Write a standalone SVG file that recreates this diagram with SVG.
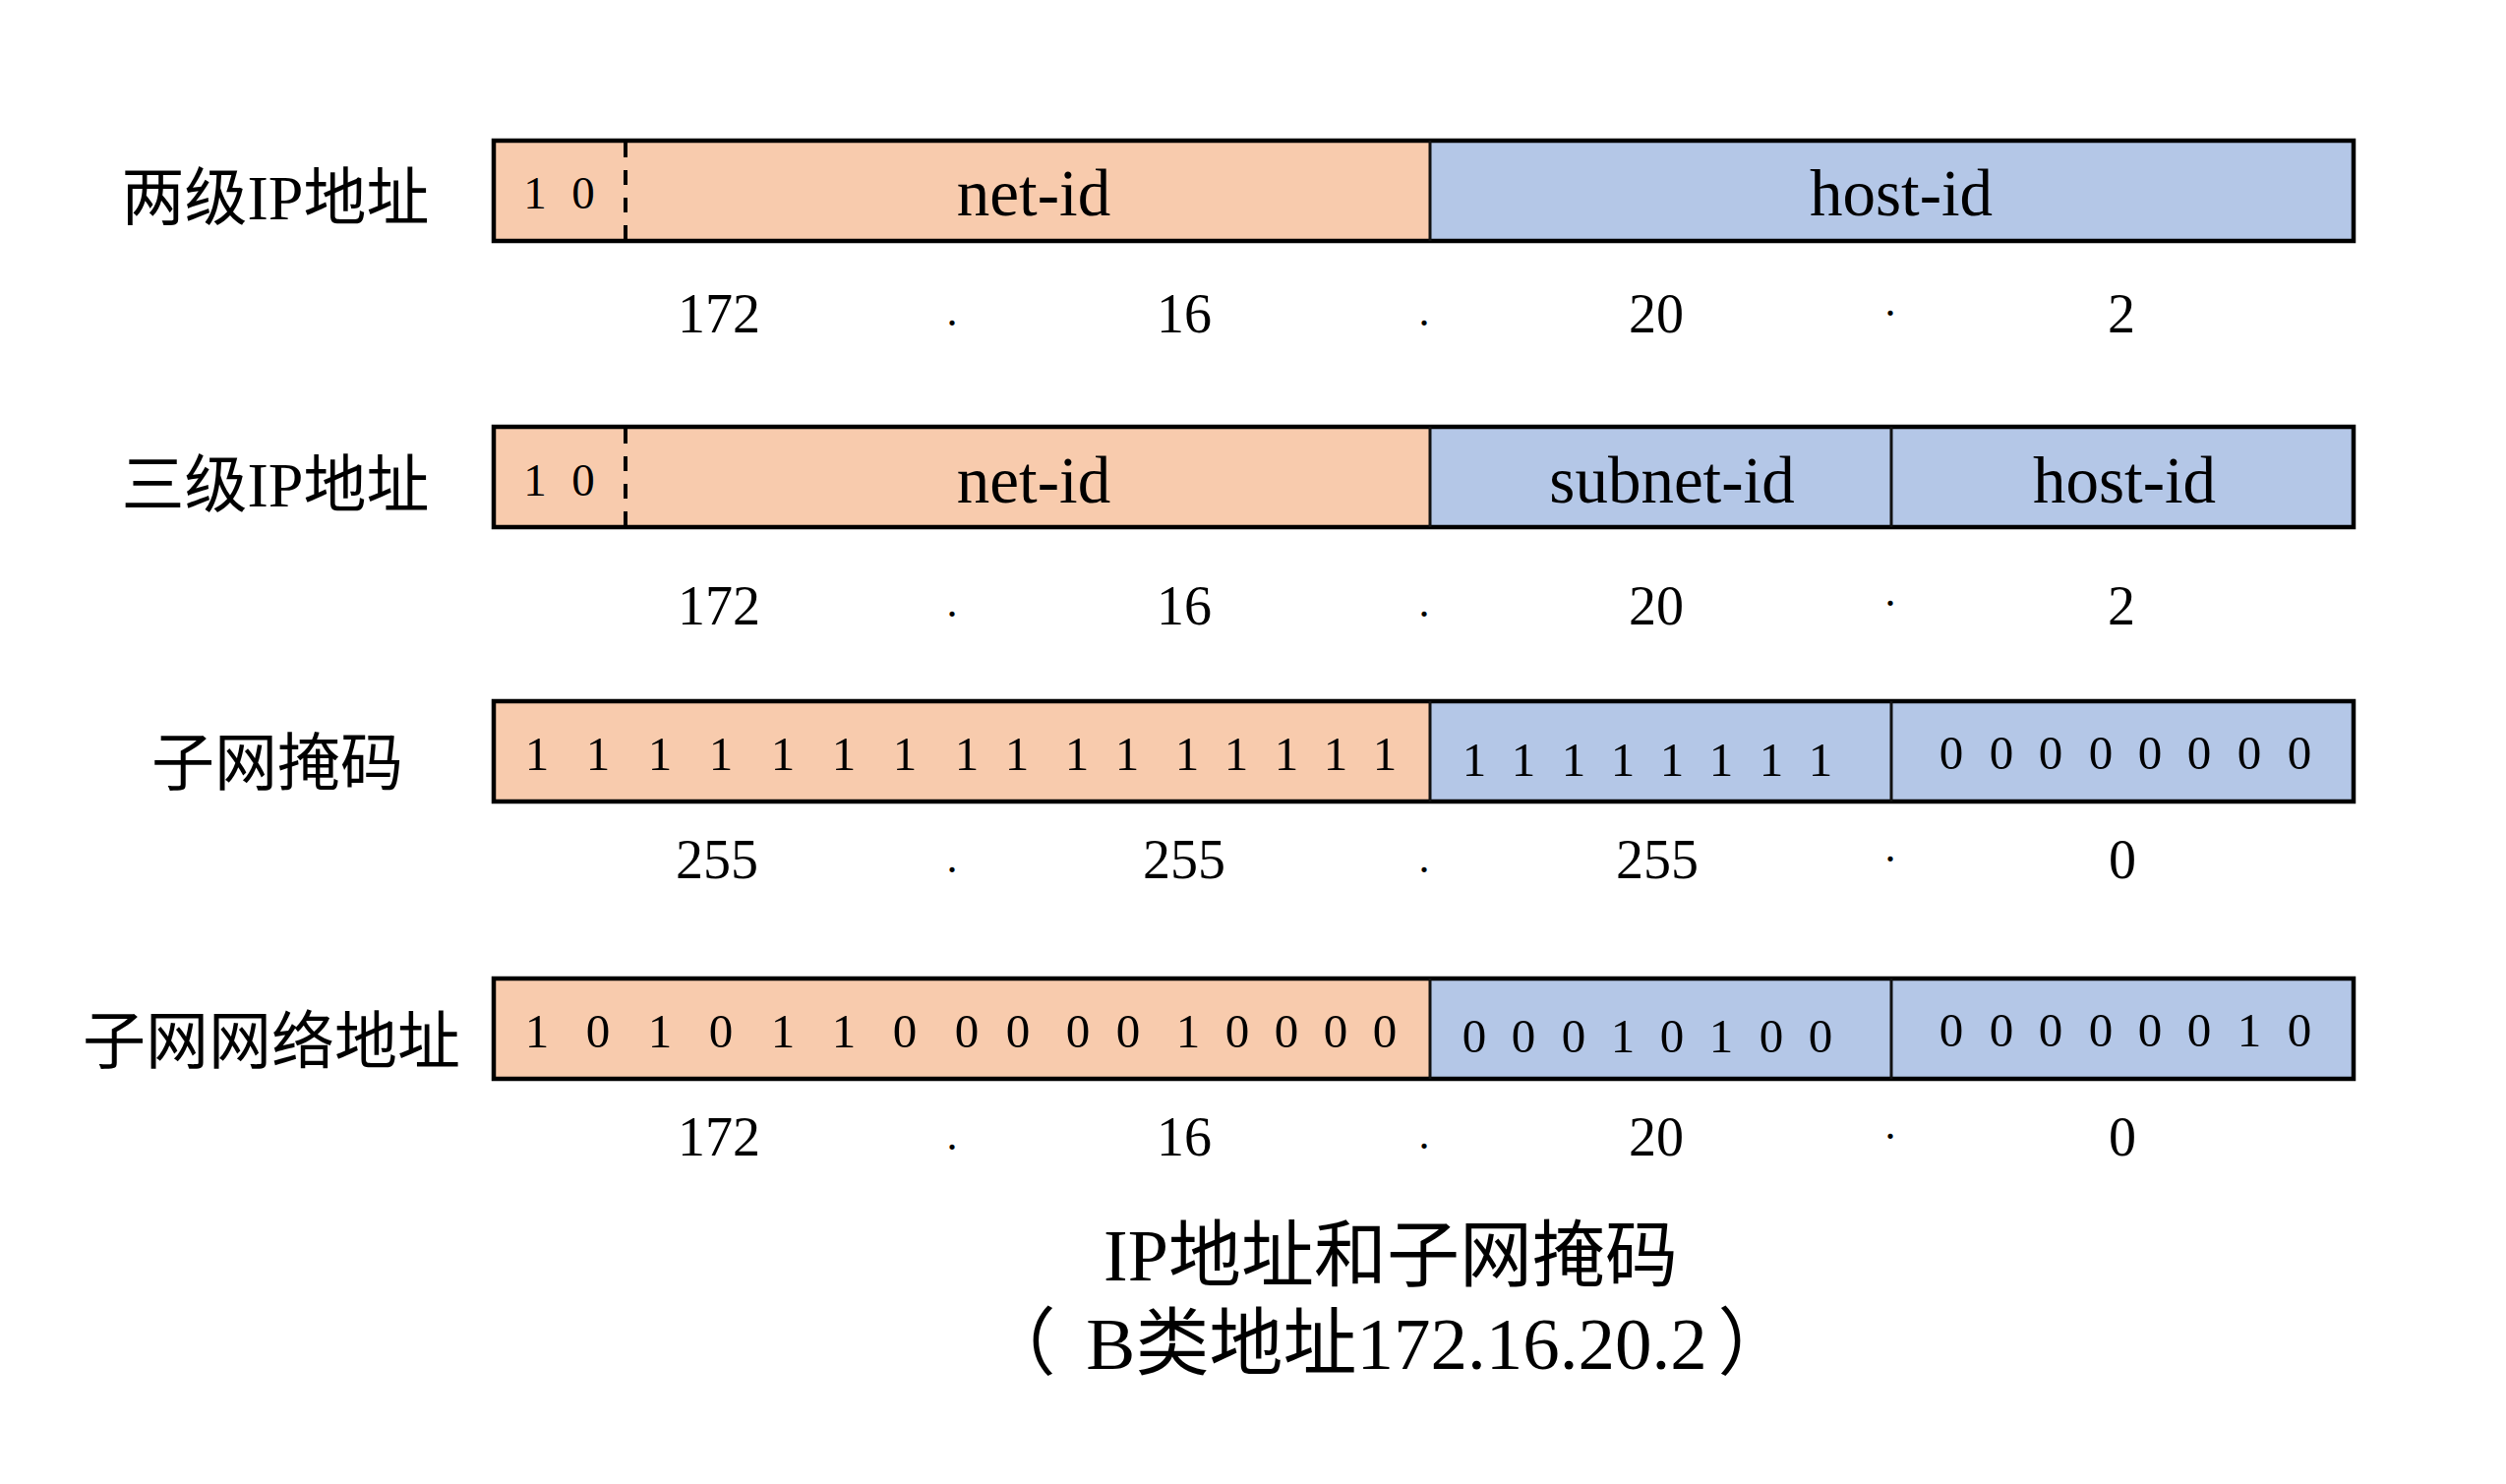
<svg xmlns="http://www.w3.org/2000/svg" width="2548" height="1509" viewBox="0 0 2548 1509">
<style>
text{font-family:'Liberation Serif','Noto Sans CJK SC',serif;fill:#000;text-anchor:middle}
.lbl{font-size:64px}
.num{font-size:56px}
.bit{font-size:49px}
.bs{font-size:47px}
.fld{font-size:67px}
.dot{font-size:44px}
.org{fill:#F8CBAD}
.blu{fill:#B4C7E7}
.frame{fill:none;stroke:#000;stroke-width:4.5}
.dv{stroke:#111;stroke-width:3}
.dash{stroke:#000;stroke-width:4;stroke-dasharray:15 13}
</style>
<rect width="2548" height="1509" fill="#fff"/>

<g id="row1">
<text class="lbl" x="280" y="223">两级IP地址</text>
<rect class="org" x="502" y="143" width="952" height="102"/>
<rect class="blu" x="1454" y="143" width="939" height="102"/>
<rect class="frame" x="502" y="143" width="1891" height="102"/>
<line class="dv" x1="1454" y1="143" x2="1454" y2="245"/>
<line class="dash" x1="636" y1="145" x2="636" y2="244"/>
<text class="bs" x="544" y="212">1</text>
<text class="bs" x="593" y="212">0</text>
<text class="fld" x="1051" y="219">net-id</text>
<text class="fld" x="1933" y="219">host-id</text>
<text class="num" x="731" y="338">172</text>
<text class="dot" x="968" y="331">.</text>
<text class="num" x="1204" y="338">16</text>
<text class="dot" x="1448" y="331">.</text>
<text class="num" x="1684" y="338">20</text>
<text class="dot" x="1922" y="321">.</text>
<text class="num" x="2157" y="338">2</text>
</g>

<g id="row2">
<text class="lbl" x="280" y="515">三级IP地址</text>
<rect class="org" x="502" y="434" width="952" height="102"/>
<rect class="blu" x="1454" y="434" width="939" height="102"/>
<rect class="frame" x="502" y="434" width="1891" height="102"/>
<line class="dv" x1="1454" y1="434" x2="1454" y2="536"/>
<line class="dv" x1="1923" y1="434" x2="1923" y2="536"/>
<line class="dash" x1="636" y1="436" x2="636" y2="535"/>
<text class="bs" x="544" y="504">1</text>
<text class="bs" x="593" y="504">0</text>
<text class="fld" x="1051" y="511">net-id</text>
<text class="fld" x="1700" y="511">subnet-id</text>
<text class="fld" x="2160" y="511">host-id</text>
<text class="num" x="731" y="635">172</text>
<text class="dot" x="968" y="627">.</text>
<text class="num" x="1204" y="635">16</text>
<text class="dot" x="1448" y="627">.</text>
<text class="num" x="1684" y="635">20</text>
<text class="dot" x="1922" y="616">.</text>
<text class="num" x="2157" y="635">2</text>
</g>

<g id="row3">
<text class="lbl" x="282" y="798">子网掩码</text>
<rect class="org" x="502" y="713" width="952" height="102"/>
<rect class="blu" x="1454" y="713" width="939" height="102"/>
<rect class="frame" x="502" y="713" width="1891" height="102"/>
<line class="dv" x1="1454" y1="713" x2="1454" y2="815"/>
<line class="dv" x1="1923" y1="713" x2="1923" y2="815"/>
<text class="bit" x="546" y="783">1</text><text class="bit" x="608" y="783">1</text><text class="bit" x="671" y="783">1</text><text class="bit" x="733" y="783">1</text><text class="bit" x="796" y="783">1</text><text class="bit" x="858" y="783">1</text><text class="bit" x="920" y="783">1</text><text class="bit" x="983" y="783">1</text>
<text class="bit" x="1034" y="783">1</text><text class="bit" x="1095" y="783">1</text><text class="bit" x="1146" y="783">1</text><text class="bit" x="1207" y="783">1</text><text class="bit" x="1257" y="783">1</text><text class="bit" x="1308" y="783">1</text><text class="bit" x="1358" y="783">1</text><text class="bit" x="1408" y="783">1</text>
<text class="bit" x="1499" y="789">1</text><text class="bit" x="1549" y="789">1</text><text class="bit" x="1600" y="789">1</text><text class="bit" x="1650" y="789">1</text><text class="bit" x="1700" y="789">1</text><text class="bit" x="1750" y="789">1</text><text class="bit" x="1801" y="789">1</text><text class="bit" x="1851" y="789">1</text>
<text class="bit" x="1984" y="782">0</text><text class="bit" x="2035" y="782">0</text><text class="bit" x="2085" y="782">0</text><text class="bit" x="2136" y="782">0</text><text class="bit" x="2186" y="782">0</text><text class="bit" x="2236" y="782">0</text><text class="bit" x="2287" y="782">0</text><text class="bit" x="2338" y="782">0</text>
<text class="num" x="729" y="893">255</text>
<text class="dot" x="968" y="887">.</text>
<text class="num" x="1204" y="893">255</text>
<text class="dot" x="1448" y="887">.</text>
<text class="num" x="1685" y="893">255</text>
<text class="dot" x="1922" y="876">.</text>
<text class="num" x="2158" y="893">0</text>
</g>

<g id="row4">
<text class="lbl" x="276" y="1081">子网网络地址</text>
<rect class="org" x="502" y="995" width="952" height="102"/>
<rect class="blu" x="1454" y="995" width="939" height="102"/>
<rect class="frame" x="502" y="995" width="1891" height="102"/>
<line class="dv" x1="1454" y1="995" x2="1454" y2="1097"/>
<line class="dv" x1="1923" y1="995" x2="1923" y2="1097"/>
<text class="bit" x="546" y="1065">1</text><text class="bit" x="608" y="1065">0</text><text class="bit" x="671" y="1065">1</text><text class="bit" x="733" y="1065">0</text><text class="bit" x="796" y="1065">1</text><text class="bit" x="858" y="1065">1</text><text class="bit" x="920" y="1065">0</text><text class="bit" x="983" y="1065">0</text>
<text class="bit" x="1035" y="1065">0</text><text class="bit" x="1096" y="1065">0</text><text class="bit" x="1147" y="1065">0</text><text class="bit" x="1208" y="1065">1</text><text class="bit" x="1258" y="1065">0</text><text class="bit" x="1308" y="1065">0</text><text class="bit" x="1358" y="1065">0</text><text class="bit" x="1408" y="1065">0</text>
<text class="bit" x="1499" y="1070">0</text><text class="bit" x="1549" y="1070">0</text><text class="bit" x="1600" y="1070">0</text><text class="bit" x="1650" y="1070">1</text><text class="bit" x="1700" y="1070">0</text><text class="bit" x="1750" y="1070">1</text><text class="bit" x="1801" y="1070">0</text><text class="bit" x="1851" y="1070">0</text>
<text class="bit" x="1984" y="1064">0</text><text class="bit" x="2035" y="1064">0</text><text class="bit" x="2085" y="1064">0</text><text class="bit" x="2136" y="1064">0</text><text class="bit" x="2186" y="1064">0</text><text class="bit" x="2236" y="1064">0</text><text class="bit" x="2287" y="1064">1</text><text class="bit" x="2338" y="1064">0</text>
<text class="num" x="731" y="1175">172</text>
<text class="dot" x="968" y="1169">.</text>
<text class="num" x="1204" y="1175">16</text>
<text class="dot" x="1448" y="1168">.</text>
<text class="num" x="1684" y="1175">20</text>
<text class="dot" x="1922" y="1158">.</text>
<text class="num" x="2158" y="1175">0</text>
</g>

<g id="caption">
<text x="1414" y="1302" style="font-size:74px">IP地址和子网掩码</text>
<text x="1420" y="1392" style="font-size:75px"><tspan x="1036">（</tspan><tspan x="1420">B类地址172.16.20.2</tspan><tspan x="1784">）</tspan></text>
</g>
<g id="connectors"/>
</svg>
